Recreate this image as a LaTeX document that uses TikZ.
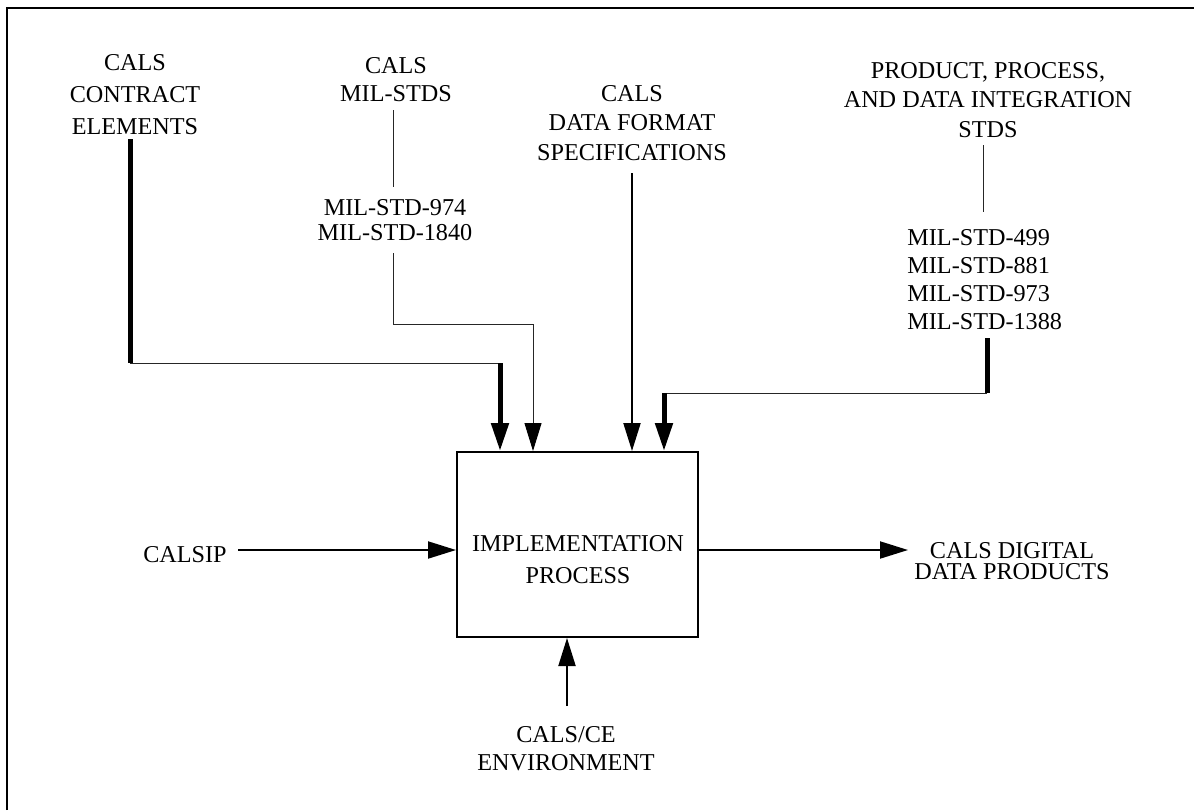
\documentclass[tikz,border=0pt]{standalone}
\usepackage{fontspec}
\setmainfont{Liberation Serif}
\usetikzlibrary{arrows.meta}
\tikzset{
  lbl/.style={font=\fontsize{12.1}{#1}\selectfont, align=center, inner sep=0pt},
  lbl/.default=14pt,
  procbox/.style={draw, line width=1pt, minimum width=120.5pt, minimum height=92.5pt, inner sep=0pt},
  thinline/.style={draw=black!85, line width=0.5pt},
  heavyline/.style={line width=2.5pt},
  midline/.style={line width=1pt},
  tip/.style={-{Triangle[length=14pt,width=8.5pt,color=black,fill=black]}},
  framelines/.style={line width=1pt}
}
\begin{document}
\begin{tikzpicture}[x=0.5pt,y=-0.5pt]
\useasboundingbox (0,0) rectangle (1194,810);
\draw[framelines] (7,810) -- (7,8) -- (1194,8);

% labels
\node[lbl=16pt] (contract) at (135,95) {CALS\\CONTRACT\\ELEMENTS};
\node[lbl=14pt] (milstds) at (396,80) {CALS\\MIL-STDS};
\node[lbl=12.5pt] (mil974) at (395,220.5) {MIL-STD-974\\MIL-STD-1840};
\node[lbl=14.75pt] (dataformat) at (632,123) {CALS\\DATA FORMAT\\SPECIFICATIONS};
\node[lbl=14.75pt] (product) at (988,100) {PRODUCT, PROCESS,\\AND DATA INTEGRATION\\STDS};
\node[lbl=14pt, align=left, anchor=west] (mil499) at (907,280) {MIL-STD-499\\MIL-STD-881\\MIL-STD-973\\MIL-STD-1388};
\node[procbox] (proc) at (577.5,544.5) {};
\node[lbl=16pt] (proctext) at (578,559.5) {IMPLEMENTATION\\PROCESS};
\node[lbl] (calsip) at (185,555) {CALSIP};
\node[lbl=10.8pt] (digital) at (1012,561) {CALS DIGITAL\\DATA PRODUCTS};
\node[lbl=14pt] (env) at (566,749) {CALS/CE\\ENVIRONMENT};

% coordinates
\coordinate (c1) at (130,139);
\coordinate (c2) at (130,363);
\coordinate (c3) at (500,363);
\coordinate (m1) at (393,110);
\coordinate (m2) at (393,187);
\coordinate (m3) at (393,253);
\coordinate (m4) at (393,324);
\coordinate (m5) at (533,324);
\coordinate (d1) at (632,173);
\coordinate (p1) at (983,145);
\coordinate (p2) at (983,212);
\coordinate (p3) at (987,338);
\coordinate (p4) at (987,393);
\coordinate (p5) at (664,393);
\coordinate (s1) at (238,550);
\coordinate (o1) at (908,550);
\coordinate (e1) at (567,706);

% contract elements
\draw[heavyline] (c1) -- (c2);
\draw[thinline] (c2) -- (c3);
\draw[heavyline, tip] (c3) -- (c3 |- proc.north);
% mil-stds
\draw[thinline] (m1) -- (m2);
\draw[thinline, tip] (m3) -- (m4) -- (m5) -- (m5 |- proc.north);
% data format
\draw[midline, tip] (d1) -- (d1 |- proc.north);
% product
\draw[thinline] (p1) -- (p2);
\draw[heavyline] (p3) -- (p4);
\draw[thinline] (p4) -- (p5);
\draw[heavyline, tip] (p5) -- (p5 |- proc.north);
% calsip
\draw[midline, tip] (s1) -- (s1 -| proc.west);
% output
\draw[midline, tip] (proc.east |- o1) -- (o1);
% environment
\draw[midline, tip] (e1) -- (e1 |- proc.south);
\end{tikzpicture}
\end{document}
